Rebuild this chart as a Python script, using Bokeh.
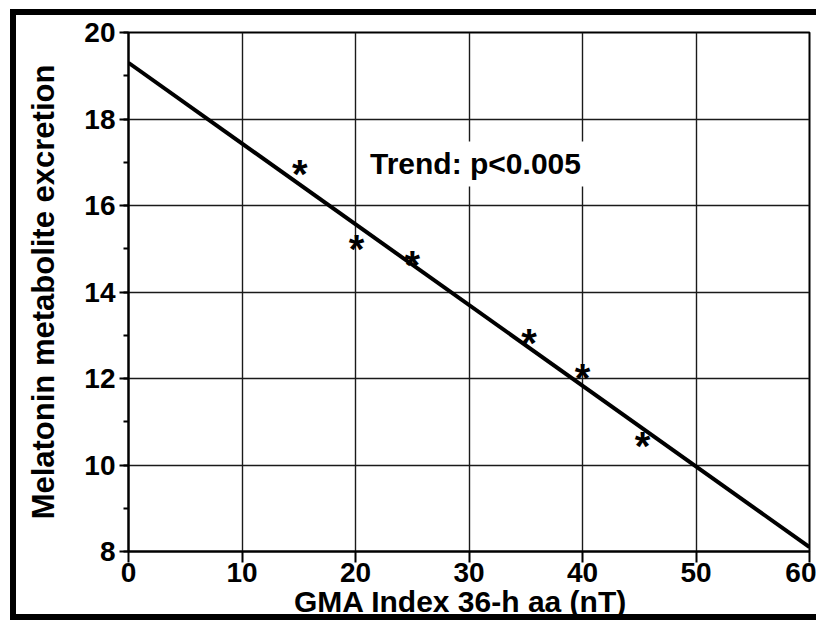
from bokeh.plotting import figure
from bokeh.models import Range1d, SingleIntervalTicker, Label, ColumnDataSource
from bokeh.core.properties import value
from bokeh.embed import file_html
from bokeh.resources import INLINE

# ---- data ----
gma_index = [15.1, 20.1, 25.0, 35.3, 40.0, 45.3]
melatonin = [16.87, 15.14, 14.76, 12.96, 12.14, 10.58]
trend_x = [0, 60]
trend_y = [19.3, 8.1]
x_limits = [0, 60]
y_limits = [8, 20]
x_label = "GMA Index  36-h aa  (nT)"
y_label = "Melatonin metabolite excretion"
note_text = "Trend: p<0.005"
note_pos = [20.75, 16.96]

FONT = "Liberation Sans"

# thick frame round the whole picture (left, top and bottom edges only)
frame_css = {
    "background-color": "white",
    "background-image": ("linear-gradient(#000,#000), linear-gradient(#000,#000), "
                         "linear-gradient(#000,#000)"),
    "background-size": "6px 611px, 806px 6px, 806px 6px",
    "background-position": "10px 9px, 10px 9px, 10px 614px",
    "background-repeat": "no-repeat",
}

p = figure(width=816, height=620,
           output_backend="svg", toolbar_location=None, tools="",
           x_range=Range1d(*x_limits), y_range=Range1d(*y_limits),
           min_border_left=128, min_border_right=7,
           min_border_top=32, min_border_bottom=66,
           background_fill_color="white", border_fill_color=None,
           styles=frame_css)

p.outline_line_color = "black"
p.outline_line_width = 2

# axes
p.xaxis.ticker = SingleIntervalTicker(interval=10, num_minor_ticks=0)
p.yaxis.ticker = SingleIntervalTicker(interval=2, num_minor_ticks=2)
for ax in (p.xaxis, p.yaxis):
    ax.axis_line_color = "black"
    ax.axis_line_width = 2
    ax.major_tick_line_color = "black"
    ax.major_tick_line_width = 2
    ax.minor_tick_line_color = "black"
    ax.minor_tick_line_width = 2
    ax.major_tick_in = 0
    ax.minor_tick_in = 0
    ax.major_label_text_font = FONT
    ax.major_label_text_font_style = "bold"
    ax.major_label_text_font_size = "28px"
    ax.major_label_text_color = "black"
    ax.axis_label_text_font = FONT
    ax.axis_label_text_font_style = "bold"
    ax.axis_label_text_color = "black"

p.xaxis.major_tick_out = 11
p.xaxis.minor_tick_out = 0
p.xaxis.major_label_standoff = 0
p.xaxis.axis_label = x_label
p.xaxis.axis_label_text_font_size = "30px"
p.xaxis.axis_label_standoff = 0

p.yaxis.major_tick_out = 9
p.yaxis.minor_tick_out = 5
p.yaxis.major_label_standoff = 4
p.yaxis.axis_label = y_label
p.yaxis.axis_label_text_font_size = "31px"
p.yaxis.axis_label_standoff = 20

p.grid.grid_line_color = "#1a1a1a"
p.grid.grid_line_width = 1.4
p.ygrid.minor_grid_line_color = None

# trend line
p.line(trend_x, trend_y, line_width=4, line_color="black")

# asterisk data points
src = ColumnDataSource(dict(x=gma_index, y=melatonin, t=["*"] * len(gma_index)))
p.text(x="x", y="y", text="t", source=src, text_font=value(FONT),
       text_font_style="bold", text_font_size="40px", text_color="black",
       text_align="center", text_baseline="alphabetic", y_offset=6)

# annotation
p.add_layout(Label(x=note_pos[0], y=note_pos[1], text=note_text,
                   text_font=FONT, text_font_style="bold",
                   text_font_size="30px", text_color="black",
                   text_baseline="alphabetic",
                   background_fill_color="white", padding=6))

open("out.html", "w").write(file_html(p, INLINE))
